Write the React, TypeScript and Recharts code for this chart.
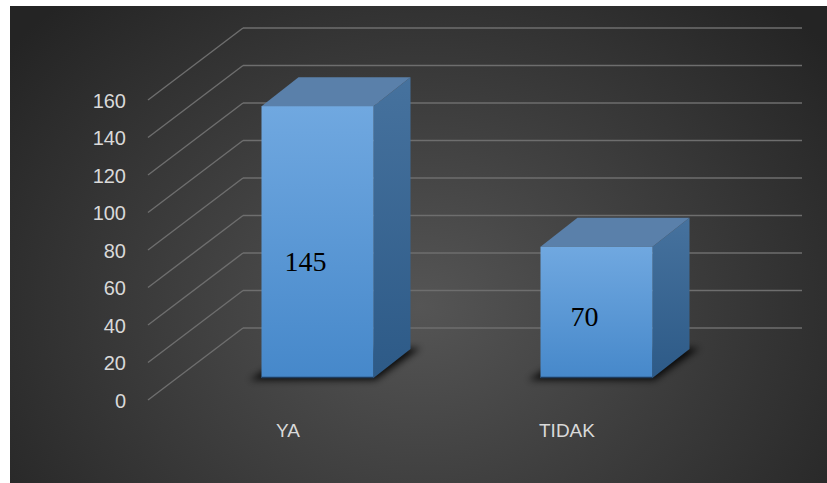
import React from "react";
import { BarChart, Bar, XAxis, YAxis, CartesianGrid, LabelList } from "recharts";

const categories = ["YA", "TIDAK"];
const values = [145, 70];
const yTicks = [0, 20, 40, 60, 80, 100, 120, 140, 160];

const data = categories.map((c, i) => ({ name: c, value: values[i] }));

const W = 827;
const H = 483;
const DX = 37; // bar depth (x)
const DY = 29; // bar depth (y)
const FRONT_X = 148; // front axis plane x
const BACK_X = 243; // back wall x
const BACK_END = 802;
const FRONT_OFF = 22; // front axis plane below bar front
const BACK_OFF = 50; // back wall above bar front

const GridLine = (props: any) => {
  const { y1 } = props;
  return (
    <g key={props.key}>
      <line x1={FRONT_X} y1={y1 + FRONT_OFF} x2={BACK_X} y2={y1 - BACK_OFF} stroke="#6e6e6e" strokeWidth={1.4} />
      <line x1={BACK_X} y1={y1 - BACK_OFF} x2={BACK_END} y2={y1 - BACK_OFF} stroke="#6e6e6e" strokeWidth={1.4} />
    </g>
  );
};

const YTick = (props: any) => {
  const { y, payload } = props;
  return (
    <text x={126} y={y + FRONT_OFF} dy={7.5} textAnchor="end" fill="#d9d9d9" fontSize={20} fontFamily="'Liberation Sans', Arial, sans-serif">
      {payload.value}
    </text>
  );
};

const XTick = (props: any) => {
  const { x, y, payload } = props;
  return (
    <text x={x - 29} y={y + 59} textAnchor="middle" fill="#d9d9d9" fontSize={19} fontFamily="'Liberation Sans', Arial, sans-serif">
      {payload.value}
    </text>
  );
};

const Bar3D = (props: any) => {
  const { x, y, width, height } = props;
  if (height == null || width == null) return null;
  const b = y + height;
  const r = x + width;
  return (
    <g>
      <polygon
        points={`${x - 12},${b + 2} ${r + 2},${b + 2} ${r + DX + 10},${b - DY - 1} ${x + DX},${b - DY}`}
        fill="#000"
        opacity={0.85}
        filter="url(#shadowBlur)"
      />
      <polygon points={`${r},${y} ${r + DX},${y - DY} ${r + DX},${b - DY} ${r},${b}`} fill="url(#sideGrad)" />
      <polygon points={`${x},${y} ${x + DX},${y - DY} ${r + DX},${y - DY} ${r},${y}`} fill="#5a80aa" />
      <rect x={x} y={y} width={width} height={height} fill="url(#frontGrad)" />
      <line x1={x} y1={b - 0.5} x2={r} y2={b - 0.5} stroke="#1e3d60" strokeWidth={1.5} />
    </g>
  );
};

const ValueLabel = (props: any) => {
  const { x, y, width, height, value } = props;
  return (
    <text
      x={x + width / 2 - 12}
      y={y + height * 0.607}
      textAnchor="middle"
      fill="#000"
      fontSize={28}
      fontFamily="'Liberation Serif', 'Times New Roman', serif"
    >
      {value}
    </text>
  );
};

export default function App() {
  return (
    <div style={{ position: "absolute", left: 0, top: 0, width: W, height: H, background: "#fff" }}>
      <div
        style={{
          position: "absolute",
          left: 10,
          top: 6,
          width: W - 10,
          height: H - 6,
          background: "radial-gradient(ellipse 520px 420px at 410px 300px, #555555 0%, #3a3a3a 55%, #242424 100%)",
        }}
      />
      <div style={{ position: "absolute", left: 0, top: 0 }}>
        <BarChart width={W} height={H} data={data} margin={{ top: 78, right: 91.5, bottom: 75, left: 117.5 }}>
          <defs>
            <linearGradient id="frontGrad" x1="0" y1="0" x2="0" y2="1">
              <stop offset="0%" stopColor="#70a8e0" />
              <stop offset="100%" stopColor="#4688ca" />
            </linearGradient>
            <linearGradient id="sideGrad" x1="0" y1="0" x2="0" y2="1">
              <stop offset="0%" stopColor="#46729e" />
              <stop offset="100%" stopColor="#2d5a87" />
            </linearGradient>
            <filter id="shadowBlur" x="-20%" y="-50%" width="140%" height="200%">
              <feGaussianBlur stdDeviation="3.5" />
            </filter>
          </defs>
          <CartesianGrid vertical={false} horizontal={GridLine as any} />
          <YAxis
            domain={[0, 160]}
            ticks={yTicks}
            width={60}
            axisLine={false}
            tickLine={false}
            tick={YTick}
            interval={0}
          />
          <XAxis dataKey="name" axisLine={false} tickLine={false} tickSize={0} tickMargin={0} height={30} tick={XTick} />
          <Bar dataKey="value" barSize={112} shape={Bar3D} isAnimationActive={false}>
            <LabelList dataKey="value" content={ValueLabel} />
          </Bar>
        </BarChart>
      </div>
    </div>
  );
}
